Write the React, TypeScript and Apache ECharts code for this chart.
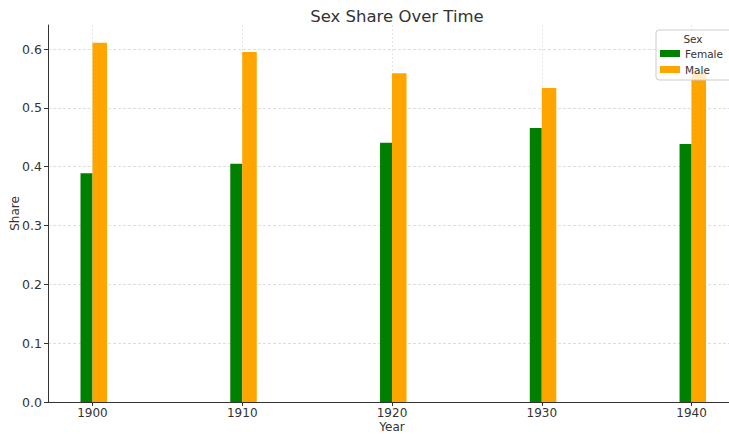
import React, { useEffect, useRef } from "react";
import * as echarts from "echarts";

const years = [1900, 1910, 1920, 1930, 1940];
const femaleShare = [0.389, 0.405, 0.441, 0.466, 0.4385];
const maleShare = [0.611, 0.595, 0.559, 0.534, 0.5615];
const yTicks = [0, 0.1, 0.2, 0.3, 0.4, 0.5, 0.6];
const seriesNames = ["Female", "Male"];
const colors = ["#008000", "#FFA500"];

const FONT = "DejaVu Sans";

function makeRender(offLeft: number, offRight: number) {
  return (params: any, api: any) => {
    const x = api.value(0);
    const v = api.value(1);
    const p0 = api.coord([x + offLeft, v]);
    const p1 = api.coord([x + offRight, 0]);
    return {
      type: "rect",
      shape: { x: p0[0], y: p0[1], width: p1[0] - p0[0], height: p1[1] - p0[1] },
      style: { fill: api.visual("color") },
    };
  };
}

export default function App() {
  const ref = useRef<HTMLDivElement>(null);
  useEffect(() => {
    if (!ref.current) return;
    const chart = echarts.init(ref.current, null, { renderer: "svg" });
    chart.setOption({
      animation: false,
      backgroundColor: "#ffffff",
      textStyle: { fontFamily: FONT },
      title: {
        text: "Sex Share Over Time",
        left: 392,
        textAlign: "center",
        top: 3,
        textStyle: { fontFamily: FONT, fontSize: 16.5, fontWeight: "normal", color: "#333" },
      },
      grid: { left: 48, right: 0, top: 25, bottom: 32, containLabel: false, outerBoundsMode: "none" },
      xAxis: {
        type: "value",
        min: 1897.03,
        max: 1942.97,
        name: "Year",
        nameLocation: "middle",
        nameGap: 19,
        nameMoveOverlap: false,
        nameTextStyle: { fontFamily: FONT, fontSize: 12, color: "#333" },
        axisLine: { show: true, onZero: false, lineStyle: { color: "#333", width: 1 } },
        axisTick: { show: true, length: 4, lineStyle: { color: "#333" }, customValues: years },
        axisLabel: {
          fontFamily: FONT,
          fontSize: 12,
          color: "#333",
          margin: 5,
          customValues: years,
          formatter: (v: number) => String(v),
        },
        splitLine: { show: true, lineStyle: { color: "#e0e0e0", type: [2, 2], width: 0.8 } },
      },
      yAxis: {
        type: "value",
        min: 0,
        max: 0.641,
        interval: 0.1,
        name: "Share",
        nameLocation: "middle",
        nameGap: 27,
        nameMoveOverlap: false,
        nameTextStyle: { fontFamily: FONT, fontSize: 12, color: "#333" },
        axisLine: { show: true, lineStyle: { color: "#333", width: 1 } },
        axisTick: { show: true, length: 4, lineStyle: { color: "#333" }, customValues: yTicks },
        axisLabel: {
          fontFamily: FONT,
          fontSize: 12.5,
          color: "#333",
          margin: 6,
          customValues: yTicks,
          formatter: (v: number) => v.toFixed(1),
        },
        splitLine: { show: true, lineStyle: { color: "#d6d6d6", type: [3, 2], width: 0.8 } },
      },
      legend: {
        data: seriesNames,
        orient: "vertical",
        left: 660,
        top: 48,
        padding: 0,
        itemWidth: 20,
        itemHeight: 7,
        itemGap: 5,
        itemTextGap: 10,
        icon: "rect",
        textStyle: { fontFamily: FONT, fontSize: 10.5, color: "#333" },
        z: 20,
      },
      graphic: [
        {
          type: "rect",
          z: 15,
          shape: { x: 656, y: 30, width: 90, height: 50, r: 3 },
          style: { fill: "rgba(255,255,255,0.8)", stroke: "#cccccc", lineWidth: 1 },
        },
        {
          type: "text",
          z: 16,
          x: 693,
          y: 39,
          style: {
            text: "Sex",
            fontFamily: FONT,
            fontSize: 10.5,
            fill: "#333",
            align: "center",
            verticalAlign: "middle",
          },
        },
      ],
      series: [
        {
          name: seriesNames[0],
          type: "custom",
          color: colors[0],
          renderItem: makeRender(-0.8, 0),
          encode: { x: 0, y: 1 },
          data: years.map((y, i) => [y, femaleShare[i]]),
          z: 5,
        },
        {
          name: seriesNames[1],
          type: "custom",
          color: colors[1],
          renderItem: makeRender(0, 0.97),
          encode: { x: 0, y: 1 },
          data: years.map((y, i) => [y, maleShare[i]]),
          z: 5,
        },
      ],
    });
    return () => chart.dispose();
  }, []);
  return (
    <div
      ref={ref}
      style={{ position: "fixed", left: 0, top: 0, width: 736, height: 434, overflow: "hidden" }}
    />
  );
}
